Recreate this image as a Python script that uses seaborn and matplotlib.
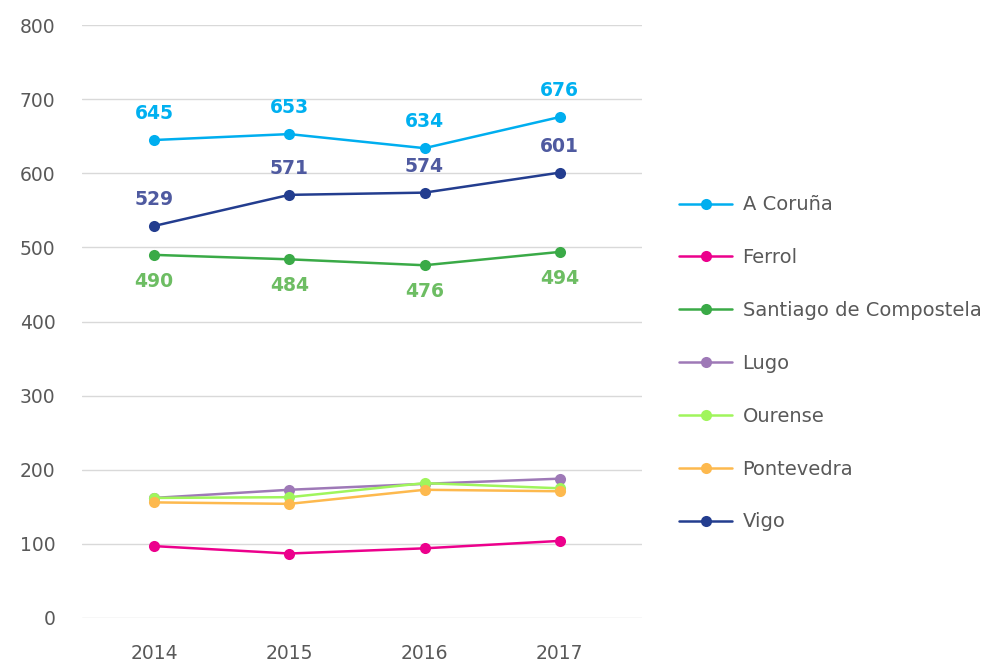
import matplotlib
matplotlib.use("Agg")
import matplotlib.pyplot as plt
import seaborn as sns
import pandas as pd

years = ["2014", "2015", "2016", "2017"]
cities = ["A Coruña", "Ferrol", "Santiago de Compostela", "Lugo", "Ourense", "Pontevedra", "Vigo"]
a_coruna = [645, 653, 634, 676]
ferrol = [97, 87, 94, 104]
santiago = [490, 484, 476, 494]
lugo = [162, 173, 181, 188]
ourense = [162, 163, 182, 175]
pontevedra = [156, 154, 173, 171]
vigo = [529, 571, 574, 601]
series = [a_coruna, ferrol, santiago, lugo, ourense, pontevedra, vigo]
colors = ["#00aeef", "#ec008c", "#3aaa47", "#9e79b7", "#a0f55c", "#fdb94e", "#233d8f"]
labelled = {"A Coruña": ("#00b0f0", 19), "Vigo": ("#4f5aa0", 19), "Santiago de Compostela": ("#6dbd63", -19)}

rows = []
for c, vals in zip(cities, series):
    for i, v in enumerate(vals):
        rows.append({"Year": i, "City": c, "Value": v})
df = pd.DataFrame(rows)

sns.set_theme(style="white")
plt.rcParams["font.family"] = ["DejaVu Sans"]

fig = plt.figure(figsize=(10.05, 6.62), dpi=100)
ax = fig.add_axes([0.0816, 0.0665, 0.5574, 0.8955])

sns.lineplot(data=df, x="Year", y="Value", hue="City", hue_order=cities,
             palette=colors, marker="o", markersize=8, markeredgewidth=0,
             linewidth=1.8, ax=ax, legend=True)

for c, vals in zip(cities, series):
    if c in labelled:
        col, off = labelled[c]
        for i, v in enumerate(vals):
            ax.annotate(str(v), (i, v), xytext=(0, off), textcoords="offset points",
                        ha="center", va="center", fontsize=13.5, fontweight="bold", color=col)

ax.set_xlim(-0.533, 3.61)
ax.set_ylim(0, 800)
ax.set_yticks(range(0, 801, 100))
ax.set_xticks(range(len(years)))
ax.set_xticklabels(years)
ax.set_xlabel("")
ax.set_ylabel("")
for s in ax.spines.values():
    s.set_visible(False)
ax.grid(axis="y", color="#d9d9d9", linewidth=1)
ax.tick_params(axis="y", length=0, pad=19, labelsize=13.5, labelcolor="#595959")
ax.tick_params(axis="x", length=0, pad=19, labelsize=13.5, labelcolor="#595959")

h, l = ax.get_legend_handles_labels()
ax.legend_.remove()
fig.legend(h, l, loc="center left", bbox_to_anchor=(0.676, 0.451), frameon=False,
           fontsize=14, handlelength=2.7, labelspacing=1.74, handletextpad=0.55,
           borderpad=0, borderaxespad=0, labelcolor="#595959")

fig.savefig("out.png", dpi=100)
